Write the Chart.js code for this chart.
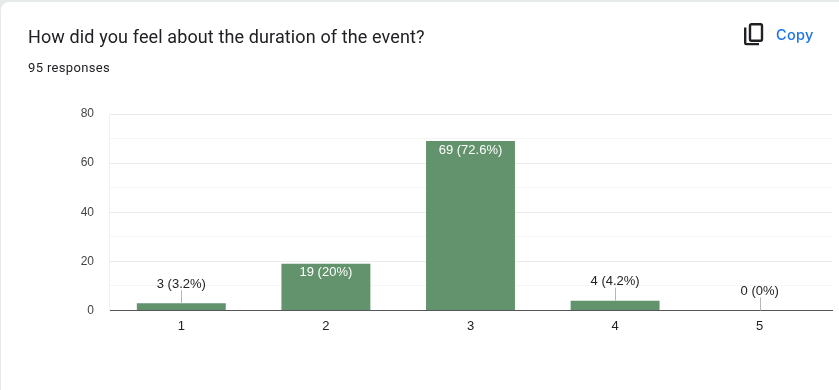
<!DOCTYPE html>
<html>
<head>
<meta charset="utf-8">
<script src="https://cdn.jsdelivr.net/npm/chart.js@4"></script>
<style>
html,body{margin:0;padding:0;width:839px;height:390px;overflow:hidden;background:#e6ebe8;}
#card{position:absolute;left:1px;top:2px;width:838px;height:388px;background:#fff;border-top-left-radius:8px;}
#wrap{position:absolute;left:0;top:0;width:839px;height:390px;}
#t{position:absolute;left:28px;top:26px;font:400 18px Roboto,sans-serif;color:#202124;white-space:nowrap;letter-spacing:.12px;}
#s{position:absolute;left:28px;top:60px;font:400 13px Roboto,sans-serif;color:#202124;white-space:nowrap;letter-spacing:.35px;}
#c{position:absolute;left:776px;top:26px;font:500 14.5px Inter,Roboto,sans-serif;color:#1a73e8;white-space:nowrap;letter-spacing:.3px;}
#i{position:absolute;left:741px;top:21px;}
</style>
</head>
<body>
<div id="card"></div>
<div id="wrap"><canvas id="chart" width="839" height="390"></canvas></div>
<div id="t">How did you feel about the duration of the event?</div>
<div id="s">95 responses</div>
<svg id="i" width="27" height="27" viewBox="0 0 27 27" fill="none" stroke="#202124" stroke-width="2.4">
<path d="M4.2 6.5v15.6a1 1 0 0 0 1 1h12.8"/>
<rect x="9" y="3.2" width="12" height="16.6" rx="1.5"/>
</svg>
<div id="c">Copy</div>
<script>
const categories = ["1","2","3","4","5"];
const counts = [3,19,69,4,0];
const pointLabels = ["3 (3.2%)","19 (20%)","69 (72.6%)","4 (4.2%)","0 (0%)"];
const majorTicks = [0,20,40,60,80];
const barColor = "#62936c";

const labelPlugin = {
  id:"barLabels",
  afterDatasetsDraw(chart){
    const {ctx,scales:{x,y}} = chart;
    ctx.save();
    ctx.font = "13px Arial, 'Liberation Sans', sans-serif";
    ctx.textAlign = "center";
    ctx.textBaseline = "middle";
    counts.forEach((v,i)=>{
      const px = x.getPixelForValue(i), top = y.getPixelForValue(v);
      if(v >= 10){
        ctx.fillStyle = "#ffffff";
        ctx.fillText(pointLabels[i], px, top + 9);
      }else{
        ctx.strokeStyle = "#b7b7b7";
        ctx.lineWidth = 1;
        ctx.beginPath();
        ctx.moveTo(Math.round(px)+.5, top);
        ctx.lineTo(Math.round(px)+.5, top - 13);
        ctx.stroke();
        ctx.fillStyle = "#222222";
        ctx.fillText(pointLabels[i], px, top - 19);
      }
    });
    ctx.restore();
  }
};

new Chart(document.getElementById("chart"),{
  type:"bar",
  data:{labels:categories,datasets:[{data:counts,backgroundColor:barColor,barPercentage:0.615,categoryPercentage:1}]},
  plugins:[labelPlugin],
  options:{
    responsive:false,animation:false,
    layout:{padding:{top:114,right:7,left:0,bottom:50}},
    plugins:{legend:{display:false},tooltip:{enabled:false}},
    scales:{
      x:{
        grid:{display:false,drawTicks:false},
        border:{color:"#555555",width:1},
        ticks:{color:"#222222",font:{family:"Arial, 'Liberation Sans', sans-serif",size:13},padding:8,maxRotation:0},
        afterFit(s){s.height=29.5;}
      },
      y:{
        min:0,max:80,
        grid:{
          drawTicks:false,
          color:(c)=>c.tick.value%20===0?"#ebebeb":"#f5f5f5"
        },
        border:{display:true,color:"#f0f0f0"},
        ticks:{
          stepSize:10,color:"#444444",padding:15,
          font:{family:"Arial, 'Liberation Sans', sans-serif",size:12},
          callback:(v)=>majorTicks.includes(v)?String(v):""
        },
        afterFit(s){s.width=109;}
      }
    }
  }
});
</script>
</body>
</html>
